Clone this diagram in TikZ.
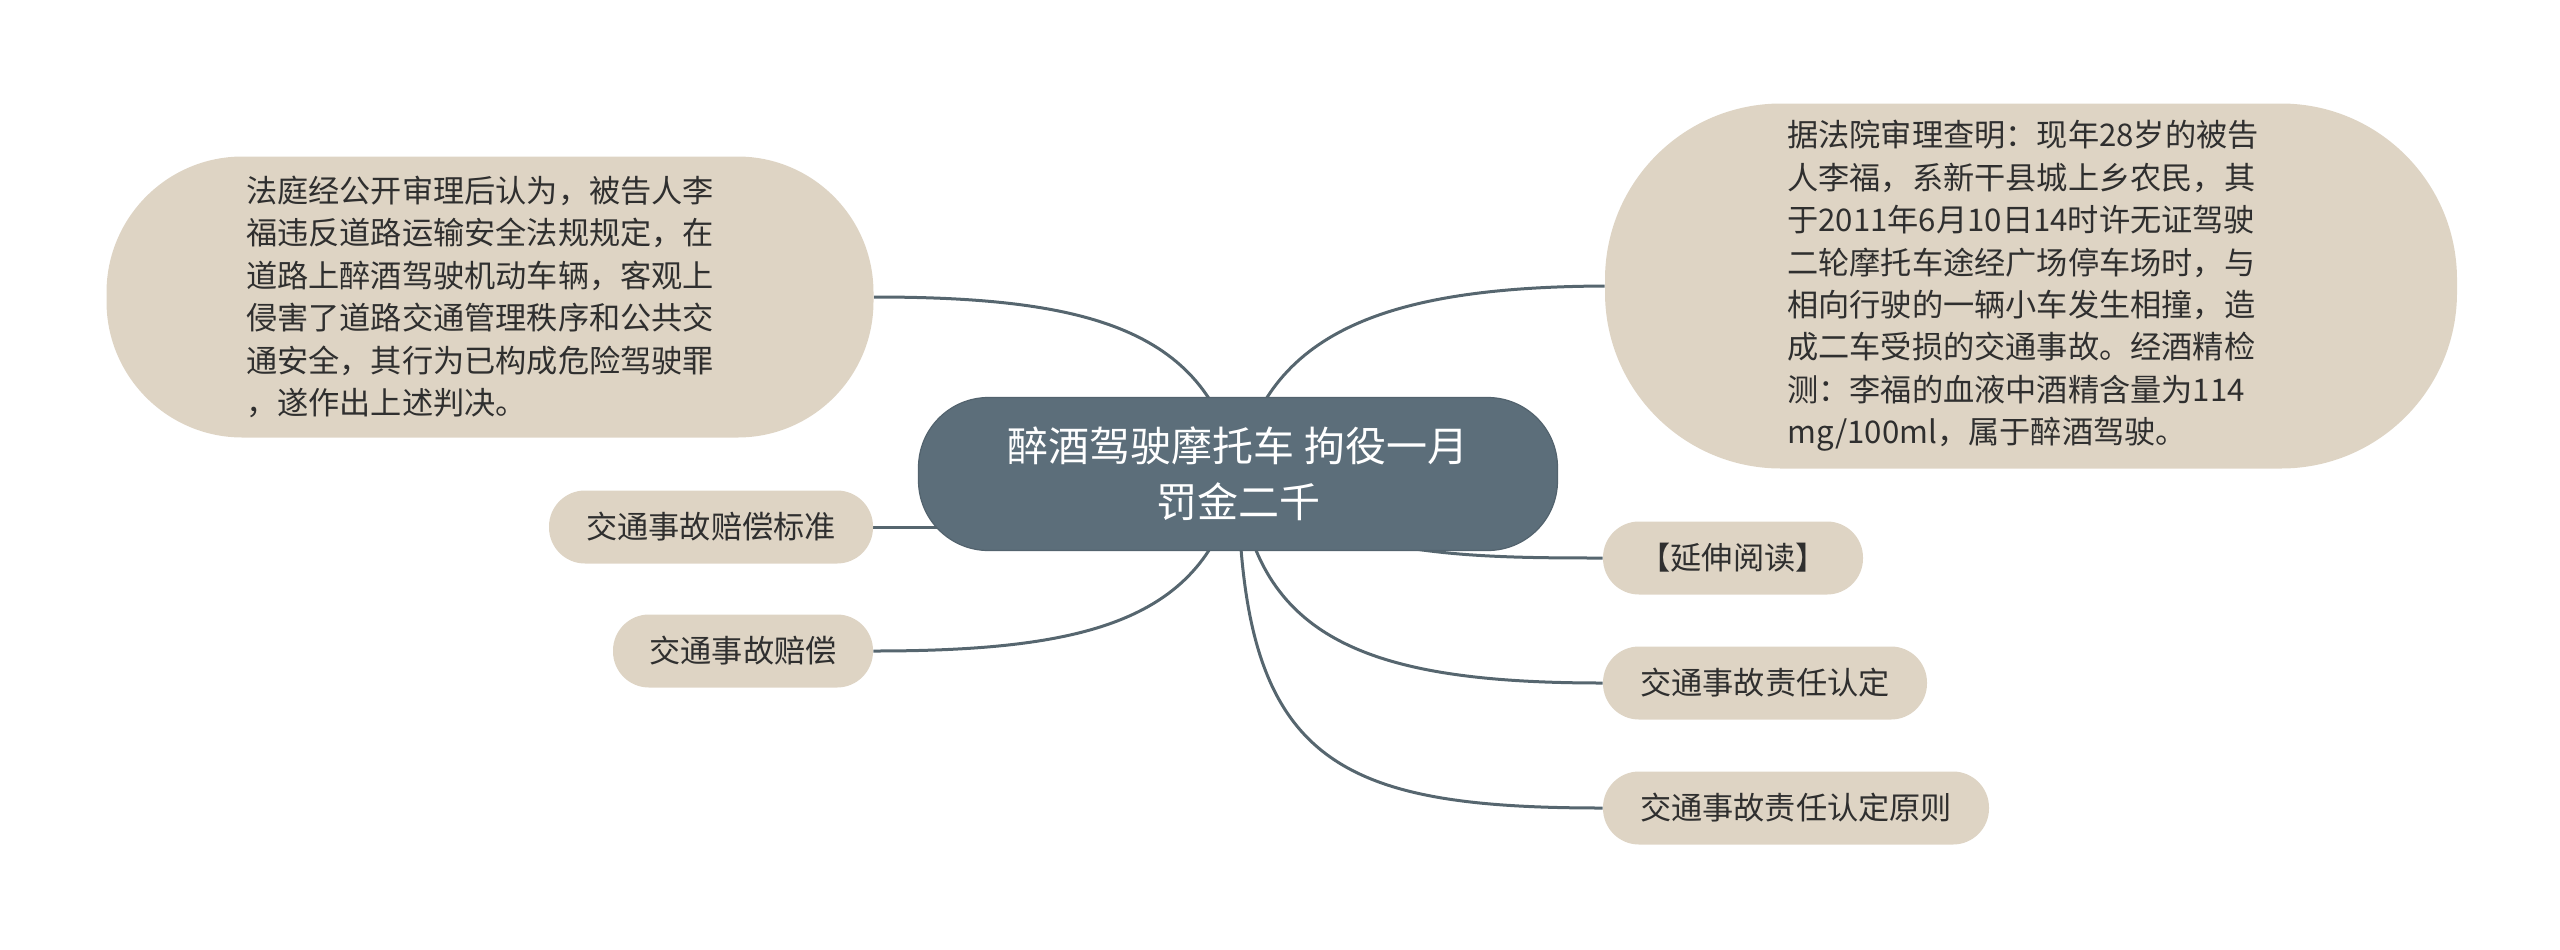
\documentclass[tikz,border=0pt]{standalone}
\usepackage{fontspec}
\newfontfamily\cjk{Noto Sans CJK SC}
\usetikzlibrary{backgrounds}
\definecolor{beige}{HTML}{DED4C4}
\definecolor{slate}{HTML}{5C6E7A}
\definecolor{linec}{HTML}{56666F}
\definecolor{txt}{HTML}{2F2F2F}
\tikzset{
  leaf/.style={fill=beige, rounded corners=18pt, minimum height=36.5pt, inner sep=0pt,
    font=\cjk\fontsize{15.6}{21.2}\selectfont, text=txt},
  bigleaf/.style={fill=beige, inner sep=0pt, align=left,
    font=\cjk\fontsize{15.6}{21.2}\selectfont, text=txt},
  rootnode/.style={fill=slate, draw=slate!90!black, line width=0.6pt, rounded corners=35pt,
    minimum width=319.5pt, minimum height=76.5pt, inner sep=0pt, align=center,
    font=\cjk\fontsize{20.5}{28}\selectfont, text=white},
  conn/.style={draw=linec, line width=1.5pt}
}
\begin{document}
\begin{tikzpicture}[x=0.5pt,y=-0.5pt]
\path[use as bounding box] (0,0) rectangle (2560,949);

\node[rootnode] (c) at (1238,474) {醉酒驾驶摩托车 拘役一月\\罚金二千};

\node[bigleaf, rounded corners=68pt, minimum width=383.5pt, minimum height=140.5pt] (lb) at (490,297)
 {法庭经公开审理后认为，被告人李\hspace*{10pt}\\福违反道路运输安全法规规定，在\\道路上醉酒驾驶机动车辆，客观上\\侵害了道路交通管理秩序和公共交\\通安全，其行为已构成危险驾驶罪\\，遂作出上述判决。};

\node[bigleaf, rounded corners=88pt, minimum width=426pt, minimum height=182.5pt] (rb) at (2031,286)
 {据法院审理查明：现年28岁的被告\hspace*{8pt}\\人李福，系新干县城上乡农民，其\\于2011年6月10日14时许无证驾驶\\二轮摩托车途经广场停车场时，与\\相向行驶的一辆小车发生相撞，造\\成二车受损的交通事故。经酒精检\\测：李福的血液中酒精含量为114\\mg/100ml，属于醉酒驾驶。};

\node[leaf, minimum width=162pt] (bz) at (711,527) {交通事故赔偿标准};
\node[leaf, minimum width=130pt] (pc) at (743,651) {交通事故赔偿};
\node[leaf, minimum width=130pt] (ys) at (1733,558) {【延伸阅读】};
\node[leaf, minimum width=162pt] (zr) at (1765,683) {交通事故责任认定};
\node[leaf, minimum width=193pt] (yz) at (1796,808) {交通事故责任认定原则};

\begin{scope}[on background layer]
\draw[conn] (lb.east) .. controls (1090,297) and (1210,330) .. (c.center);
\draw[conn] (rb.west) .. controls (1390,287) and (1265,330) .. (c.center);
\draw[conn] (bz.east) -- (bz.east -| c.center);
\draw[conn] (pc.east) .. controls (1090,651) and (1210,620) .. (c.center);
\draw[conn] (ys.west) .. controls (1460,558) and (1330,556) .. (c.center);
\draw[conn] (zr.west) .. controls (1370,683) and (1255,640) .. (c.center);
\draw[conn] (yz.west) .. controls (1330,808) and (1240,760) .. (c.center);
\end{scope}
\end{tikzpicture}
\end{document}
